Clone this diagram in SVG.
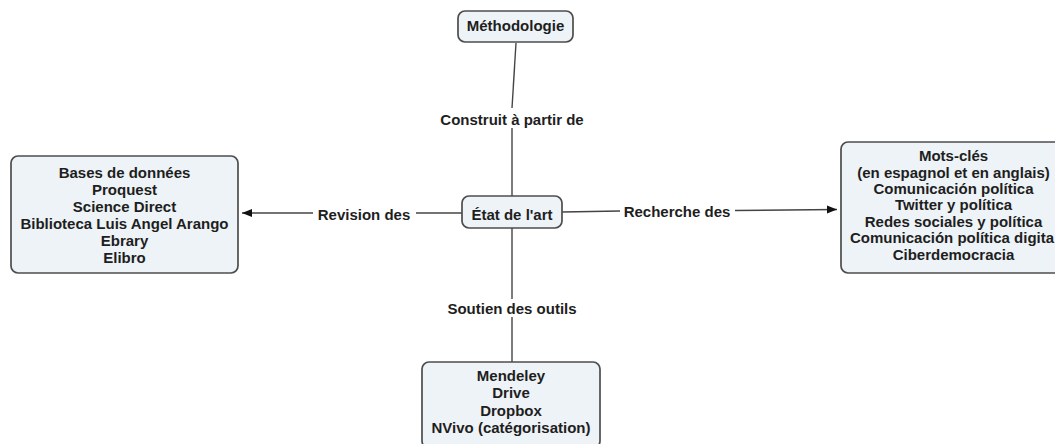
<svg xmlns="http://www.w3.org/2000/svg" width="1055" height="444" viewBox="0 0 1055 444">
<style>
.node{fill:#edf3f6;stroke:#4d4d4d;stroke-width:1.7}
.t{font-family:"Liberation Sans",Arial,sans-serif;font-weight:bold;font-size:15px;fill:#1e1e1e;text-anchor:middle}
.c{stroke:#444;stroke-width:1.4;fill:none}
</style>
<defs>
<marker id="arr" viewBox="0 0 10 10" refX="10" refY="5" markerWidth="10" markerHeight="10" markerUnits="userSpaceOnUse" orient="auto">
<path d="M0,1 L10,5 L0,9 z" fill="#111"/>
</marker>
</defs>
<rect width="1055" height="444" fill="#fff"/>
<g id="connectors">
<line class="c" x1="516" y1="43" x2="512" y2="108"/>
<line class="c" x1="512" y1="128" x2="512" y2="196"/>
<line class="c" x1="462" y1="213" x2="416" y2="213"/>
<line class="c" x1="313" y1="213" x2="242" y2="213" marker-end="url(#arr)"/>
<line class="c" x1="562" y1="212" x2="620" y2="211"/>
<line class="c" x1="735" y1="210.5" x2="837" y2="209.5" marker-end="url(#arr)"/>
<line class="c" x1="512" y1="228" x2="512" y2="299"/>
<line class="c" x1="512" y1="317" x2="512" y2="362"/>
<text class="t" x="512" y="124.5">Construit à partir de</text>
<text class="t" x="364" y="220">Revision des</text>
<text class="t" x="677" y="217">Recherche des</text>
<text class="t" x="512" y="314">Soutien des outils</text>
</g>
<g id="n-methodologie">
<rect class="node" x="458" y="11" width="115" height="31" rx="7"/>
<text class="t" x="515.5" y="30.5">Méthodologie</text>
</g>
<g id="n-etat">
<rect class="node" x="462" y="196" width="100" height="32" rx="7"/>
<text class="t" x="512" y="220">État de l'art</text>
</g>
<g id="n-bases">
<rect class="node" x="11" y="156" width="227" height="117" rx="7"/>
<text class="t" x="124.5" y="178">Bases de données</text>
<text class="t" x="124.5" y="195">Proquest</text>
<text class="t" x="124.5" y="212">Science Direct</text>
<text class="t" x="124.5" y="229">Biblioteca Luis Angel Arango</text>
<text class="t" x="124.5" y="246">Ebrary</text>
<text class="t" x="124.5" y="263">Elibro</text>
</g>
<g id="n-mots">
<rect class="node" x="841" y="142" width="225" height="131" rx="7"/>
<text class="t" x="953.5" y="161.3">Mots-clés</text>
<text class="t" x="953.5" y="177.7">(en espagnol et en anglais)</text>
<text class="t" x="953.5" y="194">Comunicación política</text>
<text class="t" x="953.5" y="210.4">Twitter y política</text>
<text class="t" x="953.5" y="226.8">Redes sociales y política</text>
<text class="t" x="952" y="243.1">Comunicación política digita</text>
<text class="t" x="953.5" y="259.5">Ciberdemocracia</text>
</g>
<g id="n-outils">
<rect class="node" x="422" y="362" width="178" height="86" rx="7"/>
<text class="t" x="511" y="381">Mendeley</text>
<text class="t" x="511" y="398.3">Drive</text>
<text class="t" x="511" y="415.6">Dropbox</text>
<text class="t" x="511" y="433">NVivo (catégorisation)</text>
</g>
</svg>
